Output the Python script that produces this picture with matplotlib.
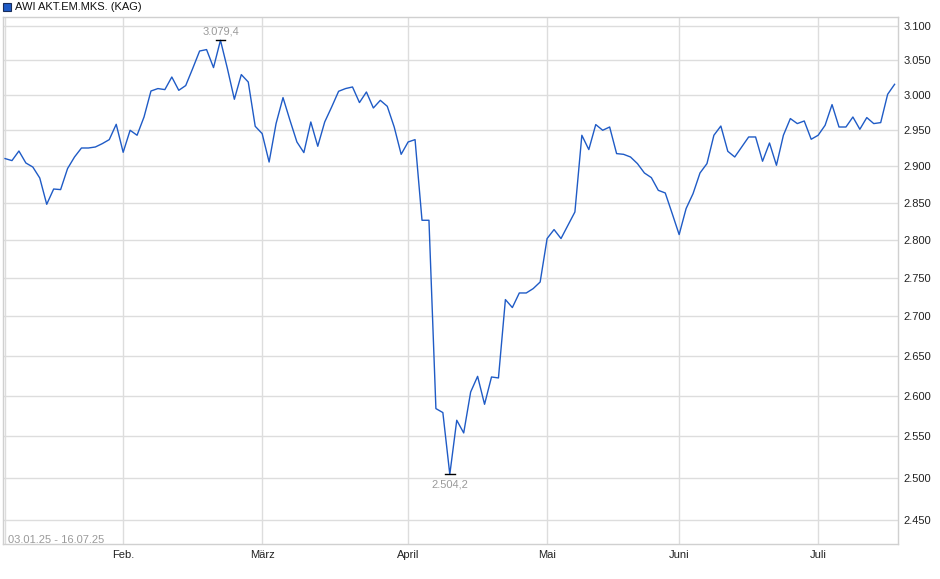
import numpy as np
import matplotlib
matplotlib.use('Agg')
import matplotlib.pyplot as plt
from matplotlib.ticker import FixedLocator, FixedFormatter, NullLocator

plt.rcParams['font.family'] = ['Liberation Sans', 'DejaVu Sans']

# Kursverlauf (Handelstage 03.01.25 - 16.07.25)
werte = [
    2910.7, 2907.9, 2921.2, 2904.6, 2899.0, 2883.9, 2848.0, 2868.8, 2868.0, 2896.9,
    2912.9, 2925.4, 2925.4, 2926.8, 2931.5, 2937.1, 2958.6, 2919.4, 2950.2, 2943.2,
    2968.9, 3005.9, 3009.4, 3007.9, 3026.0, 3006.9, 3013.7, 3038.2, 3063.7, 3065.8,
    3039.6, 3079.4, 3038.2, 2994.1, 3029.5, 3018.8, 2955.8, 2945.5, 2905.9, 2959.6,
    2996.5, 2964.3, 2933.8, 2919.0, 2961.9, 2927.8, 2961.9, 2983.1, 3005.5, 3009.4,
    3011.7, 2989.4, 3004.5, 2981.7, 2992.6, 2984.1, 2954.8, 2916.6, 2933.8, 2937.1,
    2826.4, 2826.4, 2583.9, 2579.0, 2504.2, 2569.6, 2554.1, 2604.4, 2623.9, 2589.2,
    2623.1, 2621.9, 2721.6, 2711.3, 2730.2, 2730.2, 2735.9, 2744.5, 2801.9, 2813.9,
    2801.9, 2819.6, 2837.6, 2943.2, 2923.2, 2958.2, 2950.2, 2954.8, 2917.6, 2916.6,
    2912.9, 2903.7, 2890.8, 2884.4, 2867.0, 2863.4, 2835.4, 2807.2, 2842.2, 2862.5,
    2890.8, 2903.7, 2943.2, 2956.2, 2920.8, 2912.9, 2926.8, 2940.8, 2940.8, 2907.0,
    2932.4, 2901.4, 2943.2, 2966.7, 2959.6, 2963.3, 2937.6, 2943.2, 2957.2, 2986.5,
    2954.8, 2954.8, 2968.9, 2951.6, 2968.1, 2959.6, 2961.0, 3001.2, 3015.5,
]

monat_idx = [0, 17, 37, 58, 78, 97, 117]
monat_lbl = ['', 'Feb.', 'März', 'April', 'Mai', 'Juni', 'Juli']

y_ticks = [2450, 2500, 2550, 2600, 2650, 2700, 2750, 2800, 2850, 2900, 2950, 3000, 3050, 3100]

titel = 'AWI AKT.EM.MKS. (KAG)'
zeitraum = '03.01.25 - 16.07.25'

linie = '#1f5bc6'
grid = '#dddddd'


def de(v, nk=0):
    s = f'{v:,.{nk}f}'
    return s.replace(',', 'X').replace('.', ',').replace('X', '.')


W, H = 940, 579
fig = plt.figure(figsize=(W / 100, H / 100), dpi=100)
ax = fig.add_axes([3 / W, 1 - 544 / H, (898 - 3) / W, (544 - 16.7) / H])

x = np.arange(len(werte))
ax.plot(x, werte, color=linie, lw=1.0, zorder=3)

ax.set_yscale('log')
ax.set_ylim(2422.5, 3114.2)
ax.set_xlim(-0.29, 128.49)

ax.yaxis.set_major_locator(FixedLocator(y_ticks))
ax.yaxis.set_major_formatter(FixedFormatter([de(v) for v in y_ticks]))
ax.yaxis.set_minor_locator(NullLocator())
ax.yaxis.tick_right()
ax.xaxis.set_major_locator(FixedLocator(monat_idx))
ax.xaxis.set_major_formatter(FixedFormatter(monat_lbl))
ax.tick_params(axis='both', length=0, labelsize=8, colors='#222222')
ax.tick_params(axis='y', pad=4)
ax.tick_params(axis='x', pad=4)

ax.grid(True, color=grid, lw=1.0, zorder=0)
for s in ax.spines.values():
    s.set_color('#d0d0d0')
    s.set_linewidth(1.0)

# Hoch / Tief markieren
i_max = int(np.argmax(werte))
i_min = int(np.argmin(werte))
for i, dy, va in [(i_max, 2.5, 'bottom'), (i_min, -4, 'top')]:
    ax.plot([i - 0.7, i + 0.7], [werte[i], werte[i]], color='black', lw=1.0, zorder=4)
    ax.annotate(de(werte[i], 1), (i, werte[i]), xytext=(0, dy), textcoords='offset points',
                ha='center', va=va, fontsize=8, color='#9a9a9a')

ax.text(0.006, -0.001, zeitraum, transform=ax.transAxes, fontsize=8, color='#9a9a9a',
        ha='left', va='bottom')

# Legende oben links
fig.patches.append(plt.Rectangle((3 / W, 1 - 11 / H), 8 / W, 8 / H, transform=fig.transFigure,
                                 facecolor=linie, edgecolor='#1a2d5a', lw=0.8))
fig.text(15 / W, 1 - 6.5 / H, titel, fontsize=8, color='#111111', va='center', ha='left')

fig.savefig('out.png', dpi=100)
